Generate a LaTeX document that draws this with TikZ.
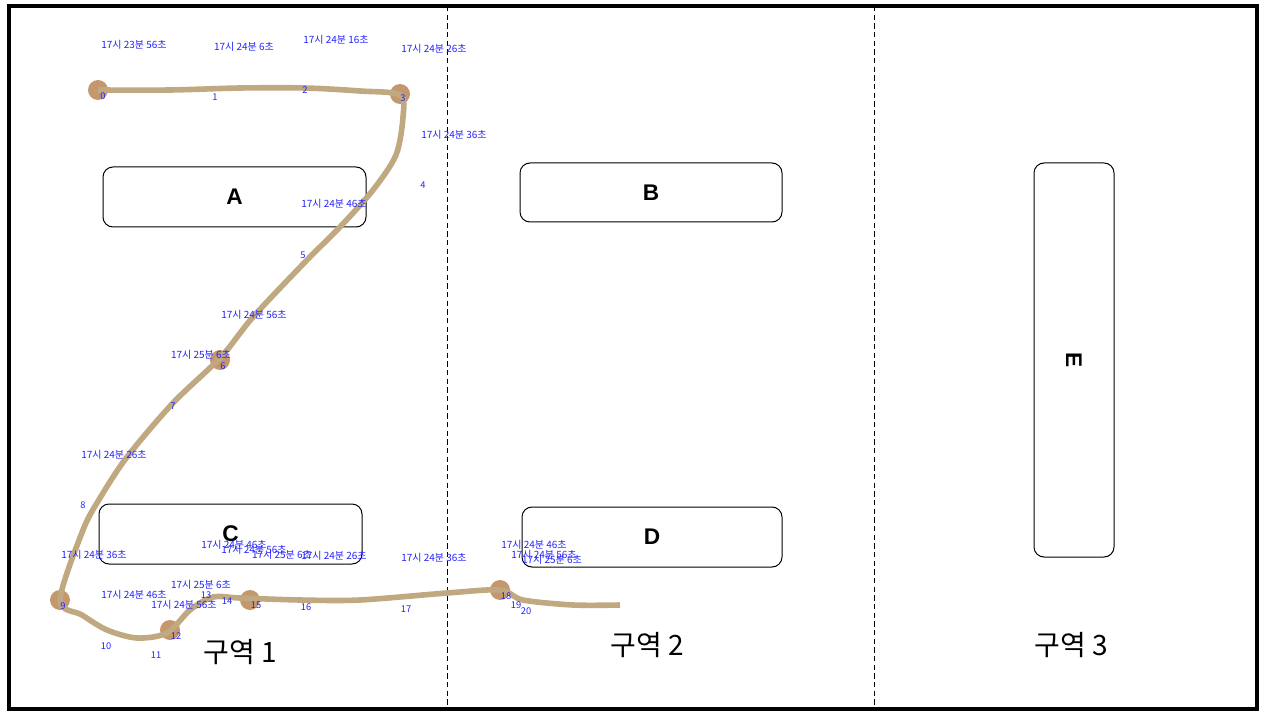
\documentclass[tikz,border=0pt]{standalone}
\usepackage{fontspec}
\setmainfont{Noto Sans CJK KR}
\newfontfamily\boxfont{Liberation Sans}
\usepackage{tikz}
\definecolor{track}{RGB}{192,168,128}
\definecolor{stop}{RGB}{196,152,108}
\definecolor{stampblue}{RGB}{35,35,255}
\tikzset{
	zonebox/.style={draw, rounded corners=7.5pt, line width=0.75pt, inner sep=0pt, font=\boxfont\bfseries\fontsize{17}{19}\selectfont},
	stamp/.style={text=stampblue, inner sep=0pt, font=\fontsize{7.5}{8}\selectfont},
	idx/.style={text=stampblue, inner sep=0pt, font=\fontsize{7}{8}\selectfont},
	zonelabel/.style={inner sep=0pt, font=\fontsize{21}{24}\selectfont}
}
\begin{document}
\begin{tikzpicture}[x=0.75pt, y=-0.75pt]
			\useasboundingbox (0,0) rectangle (1280,720);
			\draw[line width=3pt] (9,6) rectangle (1257,709);
			\draw[line width=0.75pt, dash pattern=on 4pt off 2.5pt] (447,6) -- (447,709);
			\draw[line width=0.75pt, dash pattern=on 4pt off 2.5pt] (874,6) -- (874,709);

			\node[zonebox, minimum width=197.25pt, minimum height=45pt] (boxA) at (234.5,197) {A};
			\node[zonebox, minimum width=196.5pt, minimum height=44.25pt] (boxB) at (651,192.5) {B};
			\node[zonebox, minimum width=197.25pt, minimum height=45pt] (boxC) at (230.5,534) {C};
			\node[zonebox, minimum width=195pt, minimum height=45pt] (boxD) at (652,537) {D};
			\node[zonebox, rotate=-90, minimum width=295.5pt, minimum height=60pt] (boxE) at (1074,360) {E};

			\node[zonelabel] (zone1) at (240,652) {구역 1};
			\node[zonelabel] (zone2) at (647,645) {구역 2};
			\node[zonelabel] (zone3) at (1071,645) {구역 3};

			% stops
			\fill[stop] (98,90) circle (10);
			\fill[stop] (400,94) circle (10);
			\fill[stop] (220,360) circle (10);
			\fill[stop] (60,600) circle (10);
			\fill[stop] (170,630) circle (10);
			\fill[stop] (250,600) circle (10);
			\fill[stop] (500,590) circle (10);

			\draw[track, line width=4.2pt] plot[smooth, tension=0.5] coordinates {
				(98,90) (170,90) (240,88) (305,88) (360,91) (400,95) (403,117) (396,155)
				(373,190) (340,227) (307,260) (253,317) (221,357)
				(173,403) (127,457) (100,498) (83,530) (60,600)
				(82,615) (107,630) (137,638) (167,633) (190,610) (213,597) (240,598)
				(300,600) (360,600) (447,593) (500,590) (523,600) (573,605) (620,605)};

			% point numbers
			\node[idx] (n0) at (103,96) {0};
			\node[idx] (n1) at (215,97) {1};
			\node[idx] (n2) at (305,90) {2};
			\node[idx] (n3) at (403,98) {3};
			\node[idx] (n4) at (423,185) {4};
			\node[idx] (n5) at (303,255) {5};
			\node[idx] (n6) at (223,366) {6};
			\node[idx] (n7) at (173,406) {7};
			\node[idx] (n8) at (83,505) {8};
			\node[idx] (n9) at (63,606) {9};
			\node[idx] (n10) at (106,646) {10};
			\node[idx] (n11) at (156,655) {11};
			\node[idx] (n12) at (176,636) {12};
			\node[idx] (n13) at (206,595) {13};
			\node[idx] (n14) at (227,601) {14};
			\node[idx] (n15) at (256,605) {15};
			\node[idx] (n16) at (306,607) {16};
			\node[idx] (n17) at (406,609) {17};
			\node[idx] (n18) at (506,596) {18};
			\node[idx] (n19) at (516,605) {19};
			\node[idx] (n20) at (526,611) {20};

			% time stamps
			\node[stamp] (t1) at (134,45) {17시 23분 56초};
			\node[stamp] (t2) at (244,47) {17시 24분 6초};
			\node[stamp] (t3) at (336,40) {17시 24분 16초};
			\node[stamp] (t4) at (434,49) {17시 24분 26초};
			\node[stamp] (t5) at (454,135) {17시 24분 36초};
			\node[stamp] (t6) at (334,204) {17시 24분 46초};
			\node[stamp] (t7) at (254,315) {17시 24분 56초};
			\node[stamp] (t8) at (201,355) {17시 25분 6초};
			\node[stamp] (t9) at (114,455) {17시 24분 26초};
			\node[stamp] (t10) at (94,555) {17시 24분 36초};
			\node[stamp] (t11) at (134,595) {17시 24분 46초};
			\node[stamp] (t12) at (184,605) {17시 24분 56초};
			\node[stamp] (t13) at (201,585) {17시 25분 6초};
			\node[stamp] (t14) at (234,545) {17시 24분 46초};
			\node[stamp] (t15) at (254,550) {17시 24분 56초};
			\node[stamp] (t16) at (282,555) {17시 25분 6초};
			\node[stamp] (t17) at (334,556) {17시 24분 26초};
			\node[stamp] (t18) at (434,558) {17시 24분 36초};
			\node[stamp] (t19) at (534,545) {17시 24분 46초};
			\node[stamp] (t20) at (544,555) {17시 24분 56초};
			\node[stamp] (t21) at (552,560) {17시 25분 6초};
\end{tikzpicture}
\end{document}
